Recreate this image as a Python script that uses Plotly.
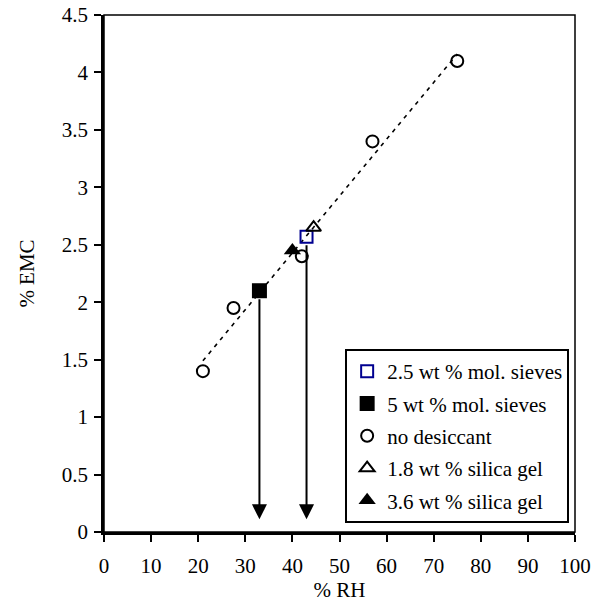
import plotly.graph_objects as go

# Data
no_des_x = [21, 27.5, 42, 57, 75]
no_des_y = [1.4, 1.95, 2.4, 3.4, 4.1]
mol25_x = [43]
mol25_y = [2.57]
mol5_x = [33]
mol5_y = [2.1]
sil18_x = [44.5]
sil18_y = [2.65]
sil36_x = [40]
sil36_y = [2.45]
trend_x = [21, 75]
trend_y = [1.49, 4.16]
arrow_x = [33, 43]
arrow_start_y = [2.1, 2.57]
arrow_end_y = [0.11, 0.11]

x_ticks = list(range(0, 101, 10))
y_ticks = [0, 0.5, 1, 1.5, 2, 2.5, 3, 3.5, 4, 4.5]
y_tick_text = ["0", "0.5", "1", "1.5", "2", "2.5", "3", "3.5", "4", "4.5"]

FONT = "Liberation Serif"
FS = 21

fig = go.Figure()

fig.add_trace(go.Scatter(x=trend_x, y=trend_y, mode="lines",
                         line=dict(color="black", width=1.6, dash="4px,5px"),
                         showlegend=False, hoverinfo="skip"))

fig.add_trace(go.Scatter(x=mol25_x, y=mol25_y, mode="markers", name="2.5 wt % mol. sieves",
                         legendgroup="a",
                         marker=dict(symbol="square-open", size=12, color="#000090",
                                     line=dict(width=2, color="#000090"))))
fig.add_trace(go.Scatter(x=mol5_x, y=mol5_y, mode="markers", name="5 wt % mol. sieves",
                         legendgroup="b",
                         marker=dict(symbol="square", size=15, color="black")))
fig.add_trace(go.Scatter(x=no_des_x, y=no_des_y, mode="markers", name="no desiccant",
                         legendgroup="c",
                         marker=dict(symbol="circle-open", size=12, color="black",
                                     line=dict(width=2, color="black"))))
fig.add_trace(go.Scatter(x=sil18_x, y=sil18_y, mode="markers", name="1.8 wt % silica gel",
                         legendgroup="d",
                         marker=dict(symbol="triangle-up-open", size=13, color="black",
                                     line=dict(width=2, color="black"))))
fig.add_trace(go.Scatter(x=sil36_x, y=sil36_y, mode="markers", name="3.6 wt % silica gel",
                         legendgroup="e",
                         marker=dict(symbol="triangle-up", size=15, color="black")))

for xa, ys, ye in zip(arrow_x, arrow_start_y, arrow_end_y):
    fig.add_annotation(x=xa, y=ye, ax=xa, ay=ys, xref="x", yref="y", axref="x", ayref="y",
                       text="", showarrow=True, arrowhead=2, arrowsize=1.5, arrowwidth=2,
                       arrowcolor="black", startstandoff=7)

fig.add_shape(type="rect", xref="paper", yref="paper", x0=0, y0=0, x1=1, y1=1,
              line=dict(color="black", width=1.5), layer="above")

fig.update_layout(
    width=595, height=609,
    margin=dict(l=104, r=20, t=15, b=77),
    plot_bgcolor="white", paper_bgcolor="white",
    font=dict(family=FONT, size=FS, color="black"),
    showlegend=True,
    legend=dict(x=0.512, y=0.354, xanchor="left", yanchor="top",
                bordercolor="black", borderwidth=2, bgcolor="white",
                font=dict(family=FONT, size=FS, color="black"),
                tracegroupgap=2, itemwidth=30),
    xaxis=dict(range=[0, 100], tickvals=x_ticks, showgrid=False, zeroline=False,
               showline=True, linecolor="black", linewidth=2.5, automargin=False,
               ticks="outside", ticklen=7, tickwidth=2, tickcolor="black",
               ticklabelstandoff=6, ticklabeloverflow="allow",
               title=dict(text="% RH", standoff=6, font=dict(family=FONT, size=FS)),
               tickfont=dict(family=FONT, size=FS)),
    yaxis=dict(range=[0, 4.5], tickvals=y_ticks, ticktext=y_tick_text, showgrid=False,
               zeroline=False, showline=True, linecolor="black", linewidth=2.5, automargin=False,
               ticks="outside", ticklen=7, tickwidth=2, tickcolor="black",
               ticklabelstandoff=2, ticklabeloverflow="allow",
               title=dict(text="% EMC", standoff=22, font=dict(family=FONT, size=FS)),
               tickfont=dict(family=FONT, size=FS)),
)

fig.write_html("out.html", config={"displayModeBar": False},
               post_script="document.body.style.margin='0px';document.body.style.overflow='hidden';")
